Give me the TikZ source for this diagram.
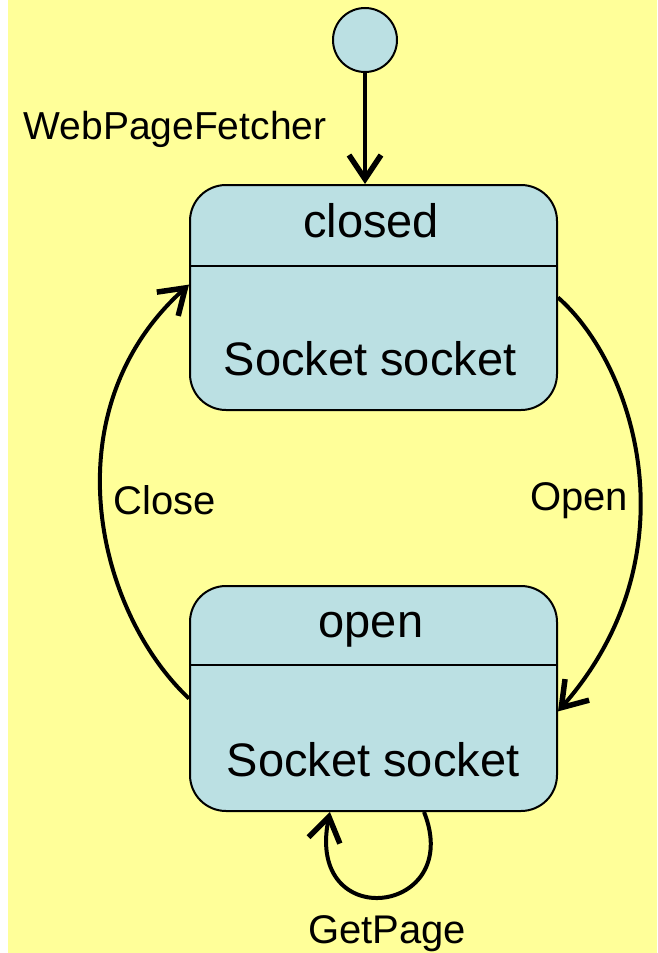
\documentclass[tikz,border=0pt]{standalone}
\usepackage{fontspec}
\setmainfont{Liberation Sans}
\usepackage{tikz}
\usetikzlibrary{arrows.meta,positioning}

\definecolor{bgyellow}{RGB}{255,255,153}
\definecolor{statefill}{RGB}{187,224,227}

\begin{document}
\begin{tikzpicture}[x=1pt, y=-1pt,
    state/.style={draw, line width=2pt, fill=statefill, rounded corners=36pt, minimum width=367pt, minimum height=225pt},
    statetext/.style={font=\fontsize{47}{52}\selectfont},
    trans/.style={line width=4pt, -{Straight Barb[length=24pt, width=32pt, line width=5.5pt]}},
    translabel/.style={font=\fontsize{40}{46}\selectfont}]
    % Background
    \useasboundingbox (0,0) rectangle (657,953);
    \fill[bgyellow] (8,0) rectangle (657,953);

    % Initial pseudo state and the two states
    \node[draw, circle, fill=statefill, line width=2pt, minimum size=64pt, inner sep=0pt] (init) at (365,40) {};
    \node[state] (closed) at (373.5,297.5) {};
    \node[state] (open) at (373.5,698.5) {};

    % Compartment lines and texts
    \draw[line width=2pt] (closed.west |- 0,266) -- (closed.east |- 0,266);
    \draw[line width=2pt] (open.west |- 0,665) -- (open.east |- 0,665);
    \node[statetext] (closedname) at (371,221) {closed};
    \node[statetext] (closedattr) at (370,359) {Socket socket};
    \node[statetext] (openname) at (371,630) {open};
    \node[statetext] (openattr) at (373,760) {Socket socket};

    % Transitions
    \draw[trans] (init) -- (init |- closed.north);
    \draw[trans] (closed.east) .. controls (635,365) and (695,555) .. (open.-4);
    \draw[trans] (open.west) .. controls (95,610) and (50,410) .. (closed.176);
    \draw[trans] (open.-66) .. controls (465,915) and (305,935) .. (open.-111);

    % Labels
    \node[translabel, font=\fontsize{39}{44}\selectfont] (fetcher) at (175,129) {WebPageFetcher};
    \node[translabel] (openlbl) at (579,501) {Open};
    \node[translabel] (closelbl) at (165,500) {Close};
    \node[translabel] (getpage) at (387,934) {GetPage};
\end{tikzpicture}
\end{document}
